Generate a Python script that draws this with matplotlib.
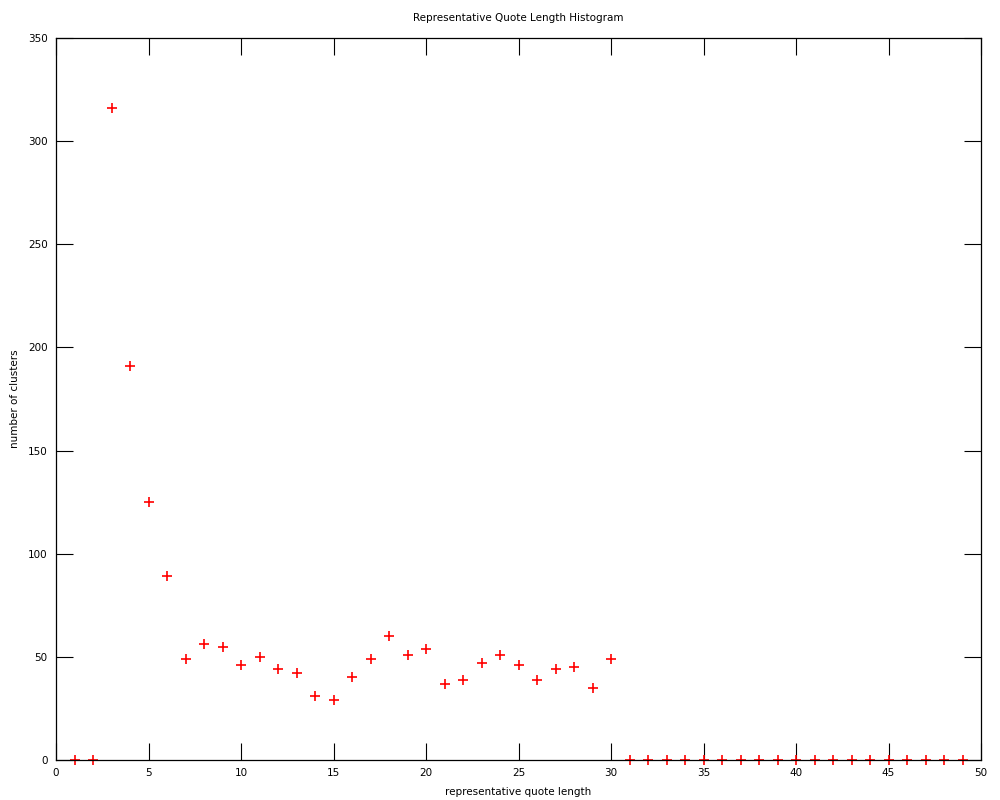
import matplotlib as mpl
mpl.use('Agg')
import matplotlib.pyplot as plt
import numpy as np

# quote length vs. number of clusters
lengths = list(range(1, 50))
clusters = [0, 0, 316, 191, 125, 89, 49, 56, 55, 46,
            50, 44, 42, 31, 29, 40, 49, 60, 51, 54,
            37, 39, 47, 51, 46, 39, 44, 45, 35, 49,
            0, 0, 0, 0, 0, 0, 0, 0, 0, 0,
            0, 0, 0, 0, 0, 0, 0, 0, 0]

xticks = np.arange(0, 51, 5)
yticks = np.arange(0, 351, 50)

plt.rcParams['font.family'] = 'DejaVu Sans'
plt.rcParams['font.size'] = 7.5

fig = plt.figure(figsize=(10, 8), dpi=100)
ax = fig.add_axes([0.056, 0.05, 0.925, 0.9025])

# markers sit under the frame so the zero row shows only the vertical arms
ax.plot(lengths, clusters, '+', color='#ff0000', markersize=7, markeredgewidth=1.2, clip_on=False, zorder=2)

ax.set_xlim(0, 50)
ax.set_ylim(0, 350)
ax.set_xticks(xticks)
ax.set_yticks(yticks)
ax.tick_params(direction='in', length=12, width=0.8, top=True, right=True, pad=6, colors='black')
for s in ax.spines.values():
    s.set_linewidth(0.9)
    s.set_zorder(3)

ax.set_title("Representative Quote Length Histogram", fontsize=7.5, pad=12)
ax.set_xlabel("representative quote length", labelpad=6)
ax.set_ylabel("number of clusters", labelpad=6)

plt.savefig("out.png", dpi=100)
